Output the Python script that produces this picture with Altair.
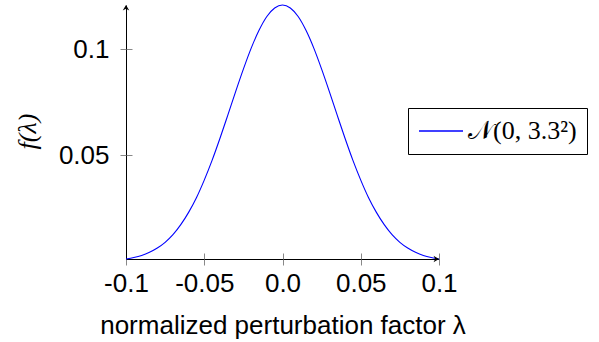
import altair as alt
import pandas as pd

# values
x_vals = [-0.1, -0.095, -0.09, -0.085, -0.08, -0.075, -0.07, -0.065, -0.06, -0.055,
          -0.05, -0.045, -0.04, -0.035, -0.03, -0.025, -0.02, -0.015, -0.01, -0.005,
          0.0, 0.005, 0.01, 0.015, 0.02, 0.025, 0.03, 0.035, 0.04, 0.045,
          0.05, 0.055, 0.06, 0.065, 0.07, 0.075, 0.08, 0.085, 0.09, 0.095, 0.1]
f_vals = [0.00123, 0.0019, 0.0029, 0.0044, 0.0064, 0.0091, 0.0127, 0.0174, 0.0232, 0.0301,
          0.0384, 0.0477, 0.0580, 0.0689, 0.0800, 0.0907, 0.1006, 0.1090, 0.1155, 0.1195,
          0.1209, 0.1195, 0.1155, 0.1090, 0.1006, 0.0907, 0.0800, 0.0689, 0.0580, 0.0477,
          0.0384, 0.0301, 0.0232, 0.0174, 0.0127, 0.0091, 0.0064, 0.0044, 0.0029, 0.0019, 0.00123]
x_ticks = [-0.1, -0.05, 0.0, 0.05, 0.1]
y_ticks = [0.05, 0.1]
series_label = "𝒩(0, 3.3²)\u00a0\u00a0\u00a0\u00a0"

df = pd.DataFrame({"x": x_vals, "f": f_vals, "series": series_label})

x_dom = [min(x_vals), max(x_vals)]
y_dom = [min(f_vals), max(f_vals)]
xs = alt.Scale(domain=x_dom, nice=False, zero=False)
ys = alt.Scale(domain=y_dom, nice=False, zero=False)

label_expr = "datum.value == 0 ? '0.0' : (datum.value < 0 ? '-' : '') + format(abs(datum.value), '.2~f')"

x_axis = alt.Axis(values=x_ticks, labelExpr=label_expr, title="normalized perturbation factor λ",
                  grid=False, domainColor="black", domainWidth=1, tickColor="#888888", tickSize=6,
                  labelFont="Liberation Sans", labelFontSize=26, labelColor="black", labelPadding=5,
                  labelOverlap=False, labelFlush=False, labelBound=False,
                  titleFont="Liberation Sans", titleFontSize=26, titleFontWeight="normal", titleColor="black",
                  titleX=156.5, titleY=74, titleBaseline="alphabetic", titleAlign="center", titleAnchor="start")
y_axis = alt.Axis(values=y_ticks, format=".2~f", title="f(λ)",
                  grid=False, domainColor="black", domainWidth=1, tickColor="#888888", tickSize=6,
                  labelFont="Liberation Sans", labelFontSize=26, labelColor="black", labelPadding=11,
                  labelOverlap=False, labelFlush=False, labelBound=False,
                  titleFont="Liberation Serif", titleFontStyle="italic", titleFontSize=26, titleFontWeight="normal",
                  titleColor="black", titleAngle=-90, titleX=-99, titleY=126, titleBaseline="middle",
                  titleAlign="center", titleAnchor="start")

x_axis_in = alt.Axis(orient="bottom", offset=-6, values=x_ticks, labels=False, domain=False, grid=False,
                     tickColor="#888888", tickSize=6, title=None)
y_axis_in = alt.Axis(orient="left", offset=-6, values=y_ticks, labels=False, domain=False, grid=False,
                     tickColor="#888888", tickSize=6, title=None)

line = alt.Chart(df).mark_line(strokeWidth=1.1, interpolate="monotone").encode(
    x=alt.X("x:Q", scale=xs, axis=x_axis),
    y=alt.Y("f:Q", scale=ys, axis=y_axis),
    color=alt.Color("series:N", scale=alt.Scale(domain=[series_label], range=["#0000ff"]),
                    legend=alt.Legend(title=None, orient="none", legendX=282, legendY=103,
                                      strokeColor="black", fillColor="white", cornerRadius=0,
                                      padding=10, symbolType="M -2 0 L 2 0", symbolSize=484,
                                      symbolOffset=10, symbolStrokeWidth=1.3,
                                      symbolStrokeColor="#6f6fff", symbolFillColor="#6f6fff",
                                      labelFont="Liberation Serif", labelFontSize=26, labelColor="black",
                                      labelOffset=14, labelLimit=400))
)

ticks_in = alt.Chart(df).mark_line(opacity=0).encode(
    x=alt.X("x:Q", scale=xs, axis=x_axis_in),
    y=alt.Y("f:Q", scale=ys, axis=y_axis_in),
)

arr_x = pd.DataFrame({"x": [x_dom[1]], "f": [y_dom[0]]})
arr_y = pd.DataFrame({"x": [x_dom[0]], "f": [y_dom[1]]})

arrow_x = alt.Chart(arr_x).mark_point(
    shape="M 0 0 L -1 -0.6 L -0.7 0 L -1 0.6 Z", filled=True, color="black", size=120, opacity=1
).encode(x=alt.X("x:Q", scale=xs, axis=None), y=alt.Y("f:Q", scale=ys, axis=None))

arrow_y = alt.Chart(arr_y).mark_point(
    shape="M 0 0 L -0.6 1 L 0 0.7 L 0.6 1 Z", filled=True, color="black", size=120, opacity=1
).encode(x=alt.X("x:Q", scale=xs, axis=None), y=alt.Y("f:Q", scale=ys, axis=None))

chart = alt.layer(line, ticks_in, arrow_x, arrow_y).resolve_axis(
    x="independent", y="independent"
).properties(
    width=313, height=254,
    autosize=alt.AutoSizeParams(type="none"),
    padding={"left": 126, "top": 5, "right": 160, "bottom": 83},
    background="white",
).configure_view(stroke=None)

chart.save("out.html", embed_options={"renderer": "svg", "actions": False})
